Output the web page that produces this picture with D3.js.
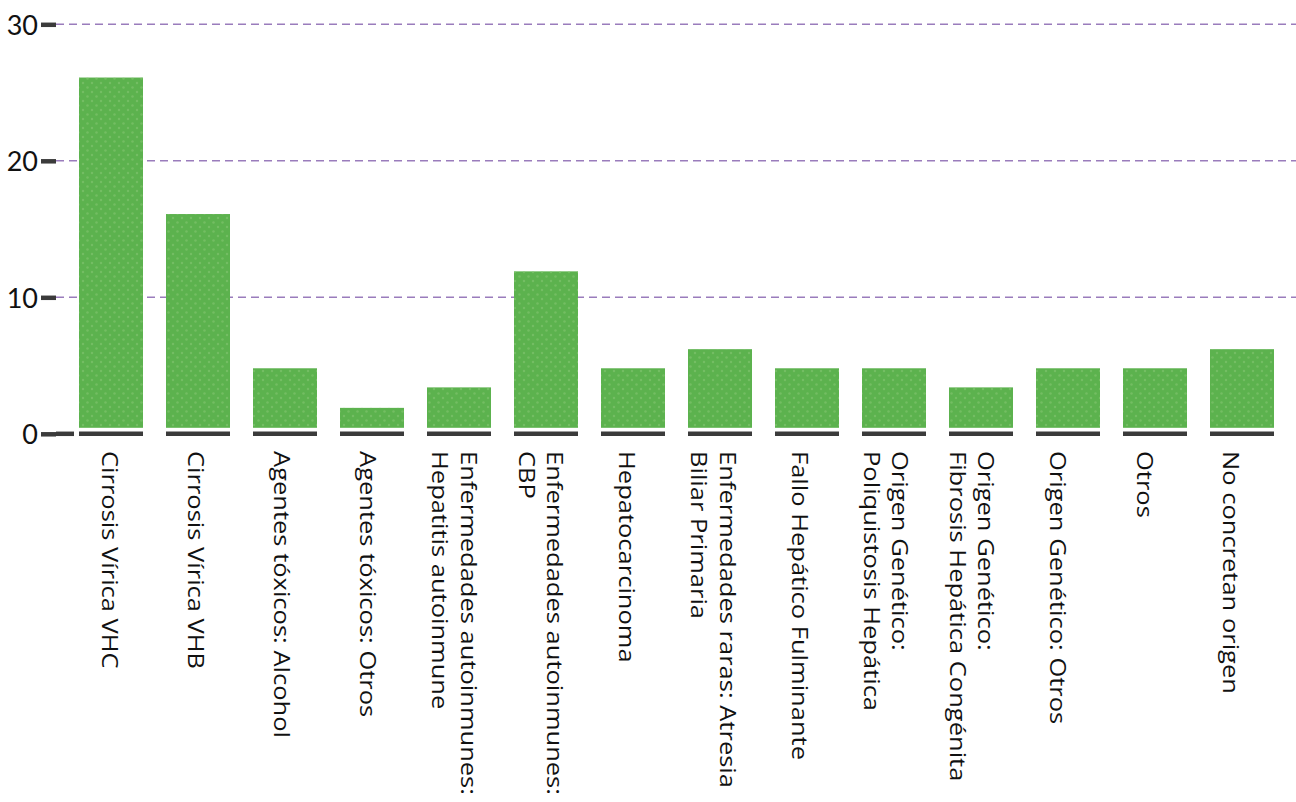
<!DOCTYPE html>
<html>
<head>
<meta charset="utf-8">
<script src="https://cdn.jsdelivr.net/npm/d3@7"></script>
<style>
  html, body { margin: 0; padding: 0; background: #ffffff; }
  svg { display: block; }
</style>
</head>
<body>
<svg id="chart" width="1296" height="802"></svg>
<script>
// ---- data ----
const categories = [
  ["Cirrosis Vírica VHC"],
  ["Cirrosis Vírica VHB"],
  ["Agentes tóxicos: Alcohol"],
  ["Agentes tóxicos: Otros"],
  ["Enfermedades autoinmunes:", "Hepatitis autoinmune"],
  ["Enfermedades autoinmunes:", "CBP"],
  ["Hepatocarcinoma"],
  ["Enfermedades raras: Atresia", "Biliar Primaria"],
  ["Fallo Hepático Fulminante"],
  ["Origen Genético:", "Poliquistosis Hepática"],
  ["Origen Genético:", "Fibrosis Hepática Congénita"],
  ["Origen Genético: Otros"],
  ["Otros"],
  ["No concretan origen"]
];
const values = [26.1, 16.1, 4.8, 1.9, 3.4, 11.9, 4.8, 6.2, 4.8, 4.8, 3.4, 4.8, 4.8, 6.2];
const yTicks = [0, 10, 20, 30];
const gridTicks = [10, 20, 30];

// ---- setup ----
const svg = d3.select("#chart");
const keys = categories.map((c, i) => i);

const x = d3.scaleBand()
  .domain(keys)
  .range([67.5, 1285.5])
  .paddingInner(0.2644)
  .paddingOuter(0.1322);

// label positions follow a slightly tighter step than the bars
const xl = d3.scaleBand()
  .domain(keys)
  .range([67.4, 1274.9])
  .padding(0);

const y = d3.scaleLinear().domain([0, 30]).range([433.8, 24.3]);

const axisX = 56;

// pattern for dotted bar texture
const defs = svg.append("defs");
const pat = defs.append("pattern")
  .attr("id", "dots")
  .attr("patternUnits", "userSpaceOnUse")
  .attr("width", 9).attr("height", 9);
pat.append("circle").attr("cx", 2).attr("cy", 2).attr("r", 1.2).attr("fill", "#86c775").attr("opacity", 0.55);
pat.append("circle").attr("cx", 6.5).attr("cy", 6.5).attr("r", 1.2).attr("fill", "#86c775").attr("opacity", 0.55);

// gridlines
svg.append("g").selectAll("line")
  .data(gridTicks)
  .join("line")
  .attr("x1", axisX)
  .attr("x2", 1296)
  .attr("y1", d => y(d))
  .attr("y2", d => y(d))
  .attr("stroke", "#9a7cbc")
  .attr("stroke-width", 1.5)
  .attr("stroke-dasharray", "8,5");

// bars
const gap = 6;
const bars = svg.append("g");
bars.selectAll("rect.bar")
  .data(values)
  .join("rect")
  .attr("class", "bar")
  .attr("x", (d, i) => x(i))
  .attr("width", x.bandwidth())
  .attr("y", d => y(d))
  .attr("height", d => y(0) - gap - y(d))
  .attr("fill", "#5cb24e");
bars.selectAll("rect.tex")
  .data(values)
  .join("rect")
  .attr("class", "tex")
  .attr("x", (d, i) => x(i))
  .attr("width", x.bandwidth())
  .attr("y", d => y(d))
  .attr("height", d => y(0) - gap - y(d))
  .attr("fill", "url(#dots)");

// baseline segments under bars
svg.append("g").selectAll("line")
  .data(values)
  .join("line")
  .attr("x1", (d, i) => x(i))
  .attr("x2", (d, i) => x(i) + x.bandwidth())
  .attr("y1", y(0))
  .attr("y2", y(0))
  .attr("stroke", "#3b3b3b")
  .attr("stroke-width", 4.5);

// y axis
const yAxis = d3.axisLeft(y)
  .tickValues(yTicks)
  .tickSize(15)
  .tickPadding(3)
  .tickFormat(d3.format("d"));
const gy = svg.append("g")
  .attr("transform", `translate(${axisX},0)`)
  .call(yAxis);
gy.select(".domain").remove();
gy.selectAll(".tick line")
  .attr("stroke", "#3b3b3b")
  .attr("stroke-width", 4.5);
gy.selectAll(".tick text")
  .attr("fill", "#111")
  .attr("font-family", "Lato, 'Noto Sans', sans-serif")
  .attr("font-size", 27)
  .attr("dy", "0.36em");
// zero tick extends to the right
gy.append("line")
  .attr("x1", 0).attr("x2", 18)
  .attr("y1", y(0)).attr("y2", y(0))
  .attr("stroke", "#3b3b3b")
  .attr("stroke-width", 4.5);

// x labels (rotated, reading top to bottom)
const labelTop = 451;
const lineGap = 28.5;
const stretch = 1.16;
const lab = svg.append("g").selectAll("g")
  .data(categories)
  .join("g")
  .attr("transform", (d, i) => `translate(${xl(i) + xl.bandwidth() / 2},${labelTop}) rotate(90) scale(${stretch},1)`);
lab.each(function(lines) {
  const g = d3.select(this);
  const n = lines.length;
  lines.forEach((t, k) => {
    g.append("text")
      .attr("x", 0)
      .attr("y", 9 + (k - (n - 1) / 2) * lineGap)
      .attr("font-family", "'Open Sans', 'Noto Sans', sans-serif")
      .attr("font-size", 22)
      .attr("fill", "#111")
      .text(t);
  });
});
</script>
</body>
</html>
